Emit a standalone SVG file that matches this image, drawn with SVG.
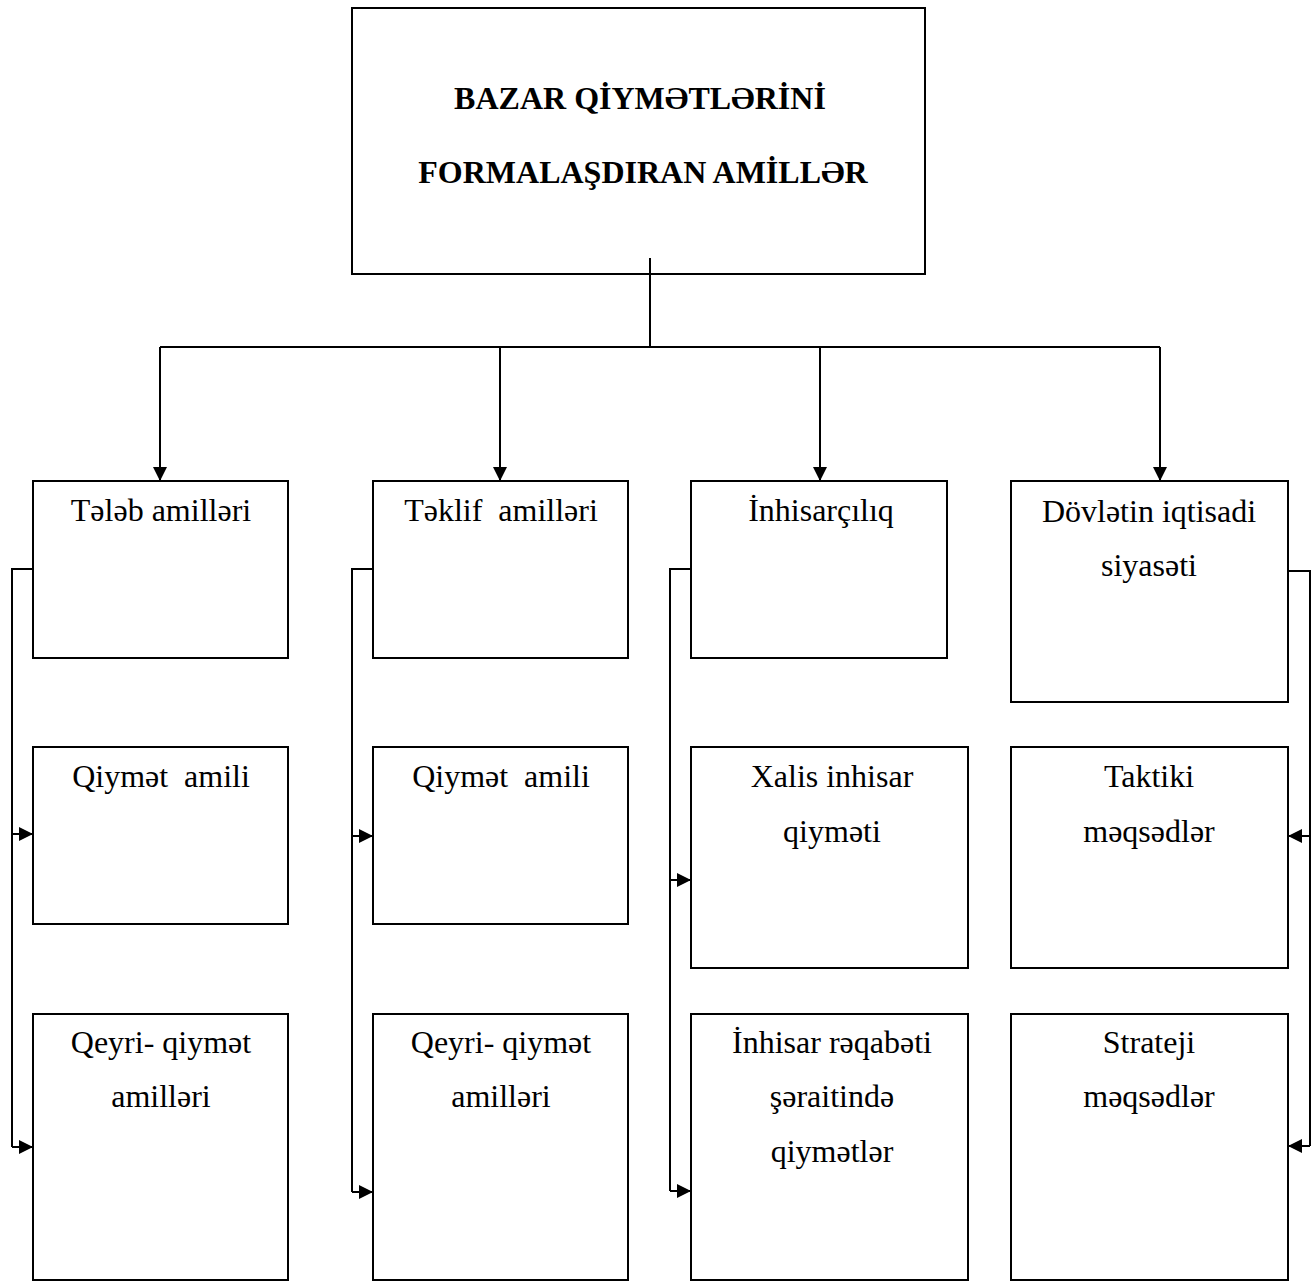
<svg xmlns="http://www.w3.org/2000/svg" width="1314" height="1282" viewBox="0 0 1314 1282">
<style>
.box{fill:#fff;stroke:#000;stroke-width:2}
.t{font-family:"Liberation Serif","Times New Roman",serif;font-size:32px;fill:#000;text-anchor:middle}
.tb{font-family:"Liberation Serif","Times New Roman",serif;font-size:32px;font-weight:bold;fill:#000;text-anchor:middle}
.c{fill:none;stroke:#000;stroke-width:2}
</style>
<defs>
<marker id="ah" viewBox="0 0 14 14" refX="14" refY="7" markerWidth="14" markerHeight="15" markerUnits="userSpaceOnUse" orient="auto">
<path d="M0,0 L14,7 L0,14 z" fill="#000"/>
</marker>
</defs>
<rect width="1314" height="1282" fill="#fff"/>
<g id="root">
<rect class="box" x="352" y="8" width="573" height="266"/>
<text class="tb" x="640" y="109">BAZAR QİYMƏTLƏRİNİ</text>
<text class="tb" x="643" y="183">FORMALAŞDIRAN AMİLLƏR</text>
</g>
<g id="teleb">
<rect class="box" x="33" y="481" width="255" height="177"/>
<text class="t" x="161" y="521">Tələb amilləri</text>
</g>
<g id="teleb-qiymet">
<rect class="box" x="33" y="747" width="255" height="177"/>
<text class="t" x="161" y="787" xml:space="preserve">Qiymət  amili</text>
</g>
<g id="teleb-qeyri">
<rect class="box" x="33" y="1014" width="255" height="266"/>
<text class="t" x="161" y="1053">Qeyri- qiymət</text>
<text class="t" x="161" y="1107">amilləri</text>
</g>
<g id="teklif">
<rect class="box" x="373" y="481" width="255" height="177"/>
<text class="t" x="501" y="521" xml:space="preserve">Təklif  amilləri</text>
</g>
<g id="teklif-qiymet">
<rect class="box" x="373" y="747" width="255" height="177"/>
<text class="t" x="501" y="787" xml:space="preserve">Qiymət  amili</text>
</g>
<g id="teklif-qeyri">
<rect class="box" x="373" y="1014" width="255" height="266"/>
<text class="t" x="501" y="1053">Qeyri- qiymət</text>
<text class="t" x="501" y="1107">amilləri</text>
</g>
<g id="inhisar">
<rect class="box" x="691" y="481" width="256" height="177"/>
<text class="t" x="821" y="521">İnhisarçılıq</text>
</g>
<g id="xalis">
<rect class="box" x="691" y="747" width="277" height="221"/>
<text class="t" x="832" y="787">Xalis inhisar</text>
<text class="t" x="832" y="842">qiyməti</text>
</g>
<g id="reqabet">
<rect class="box" x="691" y="1014" width="277" height="266"/>
<text class="t" x="832" y="1053">İnhisar rəqabəti</text>
<text class="t" x="832" y="1107">şəraitində</text>
<text class="t" x="832" y="1162">qiymətlər</text>
</g>
<g id="dovlet">
<rect class="box" x="1011" y="481" width="277" height="221"/>
<text class="t" x="1149" y="522">Dövlətin iqtisadi</text>
<text class="t" x="1149" y="576">siyasəti</text>
</g>
<g id="taktiki">
<rect class="box" x="1011" y="747" width="277" height="221"/>
<text class="t" x="1149" y="787">Taktiki</text>
<text class="t" x="1149" y="842">məqsədlər</text>
</g>
<g id="strateji">
<rect class="box" x="1011" y="1014" width="277" height="266"/>
<text class="t" x="1149" y="1053">Strateji</text>
<text class="t" x="1149" y="1107">məqsədlər</text>
</g>
<g id="connectors">
<path class="c" d="M650,258 V347 M160,347 H1160"/>
<path class="c" d="M160,347 V481" marker-end="url(#ah)"/>
<path class="c" d="M500,347 V481" marker-end="url(#ah)"/>
<path class="c" d="M820,347 V481" marker-end="url(#ah)"/>
<path class="c" d="M1160,347 V481" marker-end="url(#ah)"/>
<path class="c" d="M33,569 H12 V1147"/>
<path class="c" d="M12,834 H33" marker-end="url(#ah)"/>
<path class="c" d="M12,1147 H33" marker-end="url(#ah)"/>
<path class="c" d="M373,569 H352 V1192"/>
<path class="c" d="M352,836 H373" marker-end="url(#ah)"/>
<path class="c" d="M352,1192 H373" marker-end="url(#ah)"/>
<path class="c" d="M691,569 H670 V1191"/>
<path class="c" d="M670,880 H691" marker-end="url(#ah)"/>
<path class="c" d="M670,1191 H691" marker-end="url(#ah)"/>
<path class="c" d="M1288,571 H1310 V1146"/>
<path class="c" d="M1310,836 H1288" marker-end="url(#ah)"/>
<path class="c" d="M1310,1146 H1288" marker-end="url(#ah)"/>
</g>
</svg>
